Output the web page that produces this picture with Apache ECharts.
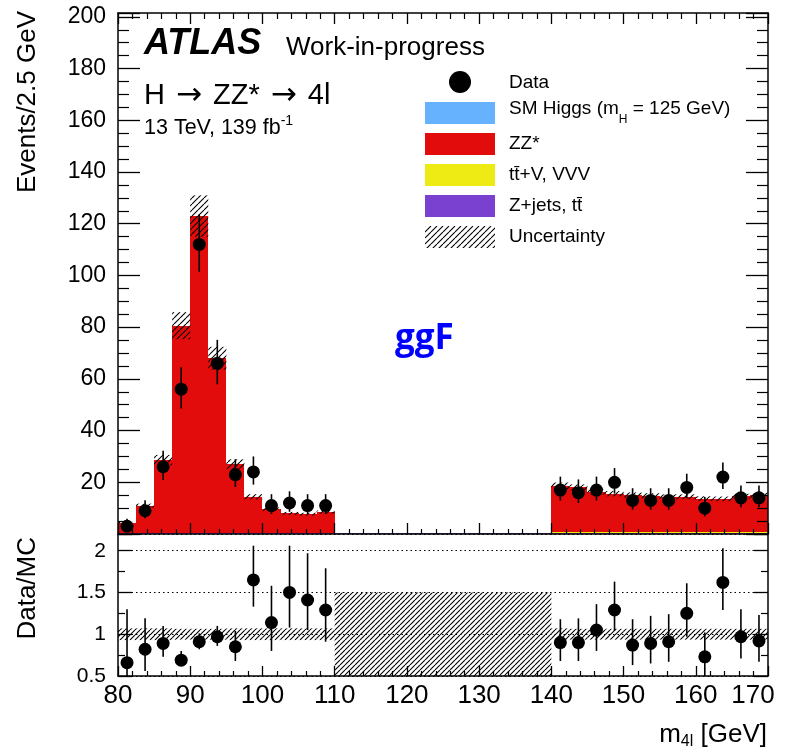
<!DOCTYPE html>
<html>
<head>
<meta charset="utf-8">
<script src="https://cdn.jsdelivr.net/npm/echarts@6/dist/echarts.min.js"></script>
<style>html,body{margin:0;padding:0;background:#fff}#c{width:790px;height:754px}</style>
</head>
<body>
<div id="c"></div>
<script>
// ---------------- data ----------------
const binLo = [80, 82.5, 85, 87.5, 90, 92.5, 95, 97.5, 100, 102.5, 105, 107.5,
               110, 112.5, 115, 117.5, 120, 122.5, 125, 127.5, 130, 132.5, 135, 137.5,
               140, 142.5, 145, 147.5, 150, 152.5, 155, 157.5, 160, 162.5, 165, 167.5];
const binWidth = 2.5;

// stacked MC components (events / bin), bottom to top
const zJets   = [0.3, 0.3, 0.3, 0.3, 0.3, 0.3, 0.3, 0.3, 0.3, 0.3, 0.3, 0.3,
                 0.3, 0.3, 0.3, 0.3, 0.3, 0.3, 0.3, 0.3, 0.3, 0.3, 0.3, 0.3,
                 0.25, 0.25, 0.25, 0.25, 0.25, 0.25, 0.25, 0.25, 0.25, 0.25, 0.25, 0.25];
const ttV     = [0.08, 0.08, 0.08, 0.08, 0.08, 0.08, 0.08, 0.08, 0.08, 0.08, 0.08, 0.08,
                 0, 0, 0, 0, 0, 0, 0, 0, 0, 0, 0, 0,
                 0.6, 0.6, 0.6, 0.6, 0.6, 0.6, 0.6, 0.6, 0.6, 0.6, 0.6, 0.6];
const zzStar  = [4.0, 10.6, 28.2, 80.2, 122.6, 67.6, 26.6, 14.0, 9.2, 7.6, 7.3, 8.1,
                 0, 0, 0, 0, 0, 0, 0, 0, 0, 0, 0, 0,
                 17.75, 17.15, 15.45, 14.75, 14.25, 13.95, 13.55, 13.55, 12.85, 12.75, 13.75, 14.15];
const smHiggs = [0, 0, 0, 0, 0, 0, 0, 0, 0, 0, 0, 0,
                 0, 0, 0, 0, 0, 0, 0, 0, 0, 0, 0, 0,
                 0, 0, 0, 0, 0, 0, 0, 0, 0, 0, 0, 0];
// relative MC uncertainty (null = blinded)
const mcRelUnc = [0.07, 0.07, 0.07, 0.065, 0.065, 0.065, 0.07, 0.07, 0.07, 0.07, 0.07, 0.07,
                  null, null, null, null, null, null, null, null, null, null, null, null,
                  0.07, 0.065, 0.065, 0.065, 0.065, 0.065, 0.065, 0.065, 0.065, 0.065, 0.065, 0.065];

// data
const dataCounts = [3, 9, 26, 56, 112, 66, 23, 24, 11, 12, 11, 11,
                    null, null, null, null, null, null, null, null, null, null, null, null,
                    17, 16, 17, 20, 13, 13, 13, 18, 10, 22, 14, 14];
const dataErrUp  = [2.9, 4.1, 6.2, 8.5, 11.6, 9.1, 5.9, 6.0, 4.4, 4.5, 4.4, 4.4,
                    null, null, null, null, null, null, null, null, null, null, null, null,
                    5.2, 5.1, 5.2, 5.5, 4.7, 4.7, 4.7, 5.3, 4.3, 5.7, 4.8, 4.8];
const dataErrDn  = [1.6, 2.9, 5.1, 7.5, 10.6, 8.1, 4.8, 4.9, 3.3, 3.4, 3.3, 3.3,
                    null, null, null, null, null, null, null, null, null, null, null, null,
                    4.1, 4.0, 4.1, 4.4, 3.6, 3.6, 3.6, 4.2, 3.1, 4.6, 3.7, 3.7];

// ratio panel
const ratioVal = [0.66, 0.82, 0.89, 0.69, 0.91, 0.97, 0.85, 1.65, 1.14, 1.50, 1.41, 1.29,
                  null, null, null, null, null, null, null, null, null, null, null, null,
                  0.90, 0.90, 1.05, 1.29, 0.87, 0.89, 0.91, 1.25, 0.73, 1.62, 0.97, 0.92];
const ratioHi  = [1.30, 1.19, 1.10, 0.80, 1.01, 1.10, 1.04, 2.06, 1.58, 2.06, 1.97, 1.79,
                  null, null, null, null, null, null, null, null, null, null, null, null,
                  1.18, 1.19, 1.36, 1.63, 1.18, 1.22, 1.24, 1.61, 1.02, 2.03, 1.30, 1.23];
const ratioLo  = [0.31, 0.56, 0.73, 0.62, 0.82, 0.86, 0.68, 1.33, 0.80, 1.08, 1.05, 0.91,
                  null, null, null, null, null, null, null, null, null, null, null, null,
                  0.68, 0.68, 0.80, 1.04, 0.63, 0.65, 0.67, 0.97, 0.48, 1.29, 0.71, 0.67];
const blindRange = [110, 140];
const blindRatioBand = [0.5, 1.5];

// axes
const xRange = [80, 170];      const xStep = 10;
const yMainRange = [0, 201.5]; const yMainStep = 20;
const yRatioRange = [0.5, 2.2]; const yRatioStep = 0.5;

// ---------------- styling ----------------
const FONT = '"Liberation Sans", Arial, Helvetica, sans-serif';
const COL = { higgs: '#66b2ff', zz: '#e20c0c', ttv: '#eeea14', zjets: '#7a40d0' };

function makeHatch(s, lw) {
  const c = document.createElement('canvas');
  c.width = s; c.height = s;
  const g = c.getContext('2d');
  g.strokeStyle = '#000'; g.lineWidth = lw;
  g.beginPath();
  for (let k = -1; k <= 1; k++) { g.moveTo(k * s, s); g.lineTo(k * s + s, 0); }
  g.stroke();
  return { image: c, repeat: 'repeat' };
}
const hatchMain = makeHatch(6, 1.1);
const hatchRatio = makeHatch(5, 1.1);

// ---------------- derived ----------------
const comps = [zJets, ttV, zzStar, smHiggs];
function stackRanges(k) {
  const out = [];
  binLo.forEach((lo, i) => {
    let base = 0;
    for (let j = 0; j < k; j++) base += comps[j][i];
    const top = base + comps[k][i];
    if (top > base) out.push([lo, lo + binWidth, base, top]);
  });
  return out;
}
const mcTotal = binLo.map((_, i) => comps.reduce((s, c) => s + c[i], 0));

function rectRender(fill, snap) {
  return function (params, api) {
    const a = api.coord([api.value(0), api.value(3)]);
    const b = api.coord([api.value(1), api.value(2)]);
    let x0 = a[0], x1 = b[0], y0 = a[1], y1 = b[1];
    if (snap) { x0 = Math.round(x0); x1 = Math.round(x1); y0 = Math.round(y0); y1 = Math.round(y1); if (y1 - y0 < 1) y0 = y1 - 1; }
    return { type: 'rect', shape: { x: x0, y: y0, width: x1 - x0, height: y1 - y0 },
             style: { fill: fill, stroke: null, lineWidth: 0 } };
  };
}
function rectSeries(name, xi, yi, data, fill, z, snap) {
  return { type: 'custom', name: name, xAxisIndex: xi, yAxisIndex: yi, clip: true, silent: true, z: z,
           dimensions: ['x0', 'x1', 'y0', 'y1'], encode: { x: [0, 1], y: [2, 3] },
           itemStyle: { color: fill }, emphasis: { disabled: true },
           renderItem: rectRender(fill, snap), data: data };
}
function errRender(params, api) {
  const a = api.coord([api.value(0), api.value(1)]);
  const b = api.coord([api.value(0), api.value(2)]);
  return { type: 'line', shape: { x1: a[0], y1: a[1], x2: b[0], y2: b[1] }, style: { stroke: '#000', lineWidth: 1.6 } };
}

const hatchData = [], bandData = [], dataPts = [], dataErr = [], ratioPts = [], ratioErr = [];
binLo.forEach((lo, i) => {
  const c = lo + binWidth / 2;
  if (mcRelUnc[i] != null) {
    hatchData.push([lo, lo + binWidth, mcTotal[i] * (1 - mcRelUnc[i]), mcTotal[i] * (1 + mcRelUnc[i])]);
    bandData.push([lo, lo + binWidth, 1 - mcRelUnc[i], 1 + mcRelUnc[i]]);
  }
  if (dataCounts[i] != null) {
    dataPts.push([c, dataCounts[i]]);
    dataErr.push([c, dataCounts[i] - dataErrDn[i], dataCounts[i] + dataErrUp[i]]);
  }
  if (ratioVal[i] != null) {
    ratioPts.push([c, ratioVal[i]]);
    ratioErr.push([c, ratioLo[i], ratioHi[i]]);
  }
});

// ---------------- axes ----------------
const axLine = { show: true, onZero: false, lineStyle: { color: '#000', width: 1.5 } };
function xAx(grid, pos, label, maj, min) {
  return { type: 'value', gridIndex: grid, position: pos, min: xRange[0], max: xRange[1], interval: xStep, z: 6,
           axisLine: axLine, splitLine: { show: false },
           axisTick: { show: maj > 0, inside: true, length: maj, lineStyle: { color: '#000', width: 1.3 } },
           minorTick: { show: min > 0, splitNumber: 5, length: min, lineStyle: { color: '#000', width: 1.2 } },
           axisLabel: label ? { show: true, margin: 7, color: '#000', fontFamily: FONT, fontSize: 26,
                                formatter: v => v === xRange[1] ? '{last|' + v + '}' : String(v),
                                rich: { last: { fontFamily: FONT, fontSize: 26, color: '#000', padding: [0, 30, 0, 0] } } }
                              : { show: false } };
}
function yAx(grid, pos, range, step, label, maj, min, split, grid2, fs) {
  return { type: 'value', gridIndex: grid, position: pos, min: range[0], max: range[1], interval: step, z: 6,
           axisLine: axLine,
           splitLine: grid2 ? { show: true, lineStyle: { color: '#000', width: 1.2, type: [1.5, 3] } } : { show: false },
           axisTick: { show: true, inside: true, length: maj, lineStyle: { color: '#000', width: 1.3 } },
           minorTick: { show: true, splitNumber: split, length: min, lineStyle: { color: '#000', width: 1.2 } },
           axisLabel: label ? { show: true, margin: 12, color: '#000', fontFamily: FONT, fontSize: fs,
                                showMinLabel: grid !== 0, showMaxLabel: false }
                              : { show: false } };
}

// ---------------- option ----------------
const option = {
  animation: false,
  backgroundColor: '#fff',
  grid: [
    { left: 118, top: 13, width: 650, height: 521, outerBoundsMode: 'none', containLabel: false },
    { left: 118, top: 534, width: 650, height: 142, outerBoundsMode: 'none', containLabel: false }
  ],
  xAxis: [
    xAx(0, 'bottom', false, 11, 5),
    xAx(0, 'top', false, 11, 6),
    xAx(1, 'bottom', true, 10, 5)
  ],
  yAxis: [
    yAx(0, 'left', yMainRange, yMainStep, true, 22, 11, 4, false, 23),
    yAx(0, 'right', yMainRange, yMainStep, false, 22, 11, 4, false, 23),
    yAx(1, 'left', yRatioRange, yRatioStep, true, 14, 7, 2, true, 21),
    yAx(1, 'right', yRatioRange, yRatioStep, false, 14, 7, 2, false, 21)
  ],
  legend: {
    left: 425, top: 71, padding: 0, orient: 'vertical', itemWidth: 70, itemHeight: 22, itemGap: 9,
    selectedMode: false, formatter: () => '',
    textStyle: { fontSize: 1 },
    data: [
      { name: 'Data', icon: 'circle' },
      { name: 'SM Higgs', icon: 'rect' },
      { name: 'ZZ*', icon: 'rect' },
      { name: 'ttV, VVV', icon: 'rect' },
      { name: 'Z+jets, tt', icon: 'rect' },
      { name: 'Uncertainty', icon: 'rect' }
    ]
  },
  series: [
    rectSeries('Z+jets, tt', 0, 0, stackRanges(0), COL.zjets, 2, true),
    rectSeries('ttV, VVV', 0, 0, stackRanges(1), COL.ttv, 2, true),
    rectSeries('ZZ*', 0, 0, stackRanges(2), COL.zz, 2, true),
    rectSeries('SM Higgs', 0, 0, stackRanges(3), COL.higgs, 2, true),
    rectSeries('Uncertainty', 0, 0, hatchData, hatchMain, 3, false),
    { type: 'custom', name: 'dataErr', xAxisIndex: 0, yAxisIndex: 0, z: 4, silent: true, clip: true,
      renderItem: errRender, data: dataErr, encode: { x: 0, y: [1, 2] } },
    { type: 'scatter', name: 'Data', xAxisIndex: 0, yAxisIndex: 0, z: 5, silent: true,
      symbol: 'circle', symbolSize: 13, itemStyle: { color: '#000', opacity: 1 }, data: dataPts },
    rectSeries('ratioBand', 2, 2, bandData, hatchRatio, 3, false),
    rectSeries('blinded', 2, 2, [[blindRange[0], blindRange[1], blindRatioBand[0], blindRatioBand[1]]], hatchRatio, 3, false),
    { type: 'custom', name: 'ratioErr', xAxisIndex: 2, yAxisIndex: 2, z: 4, silent: true, clip: true,
      renderItem: errRender, data: ratioErr, encode: { x: 0, y: [1, 2] } },
    { type: 'scatter', name: 'ratio', xAxisIndex: 2, yAxisIndex: 2, z: 5, silent: true, clip: true,
      symbol: 'circle', symbolSize: 13, itemStyle: { color: '#000', opacity: 1 }, data: ratioPts }
  ],
  graphic: [
    { type: 'text', x: 144, y: 44.5, z: 10, style: { text: 'ATLAS', fontFamily: FONT, fontSize: 36, fontWeight: 'bold', fontStyle: 'italic', fill: '#000', verticalAlign: 'middle' } },
    { type: 'text', x: 286, y: 48, z: 10, style: { text: 'Work-in-progress', fontFamily: FONT, fontSize: 26, fill: '#000', verticalAlign: 'middle' } },
    { type: 'text', x: 144, y: 95.5, z: 10, style: { text: '{a|H }{ar|\u2192}{a| ZZ* }{ar|\u2192}{a| 4l}', verticalAlign: 'middle', fill: '#000',
        rich: { a: { fontFamily: FONT, fontSize: 29, fill: '#000' },
                ar: { fontFamily: '"DejaVu Sans", sans-serif', fontSize: 31, fill: '#000', padding: [0, 3, 0, 3] } } } },
    { type: 'text', x: 144, y: 113, z: 10, style: { text: '{a|13 TeV, 139 fb}{sup|-1}', verticalAlign: 'top', fill: '#000',
        rich: { a: { fontFamily: FONT, fontSize: 21.5, lineHeight: 21, padding: [10, 0, 0, 0], fill: '#000' },
                sup: { fontFamily: FONT, fontSize: 14, lineHeight: 14, padding: [0, 0, 5, 0], fill: '#000' } } } },
    { type: 'text', x: 395, y: 339, z: 10, style: { text: 'ggF', fontFamily: '"Open Sans", "Noto Sans", sans-serif', fontSize: 35, fontWeight: 'bold', fill: '#0000ff', verticalAlign: 'middle' } },
    // legend labels
    { type: 'text', x: 509, y: 82.6, z: 10, style: { text: 'Data', fontFamily: FONT, fontSize: 19, fill: '#000', verticalAlign: 'middle' } },
    { type: 'text', x: 509, y: 104, z: 10, style: { text: '{a|SM Higgs (m}{sub|H}{a| = 125 GeV)}', verticalAlign: 'top', fill: '#000',
        rich: { a: { fontFamily: FONT, fontSize: 19, lineHeight: 19, padding: [0, 0, 10, 0], fill: '#000' },
                sub: { fontFamily: FONT, fontSize: 12, lineHeight: 12, padding: [12, 0, 0, 0], fill: '#000' } } } },
    { type: 'text', x: 509, y: 144, z: 10, style: { text: 'ZZ*', fontFamily: FONT, fontSize: 19, fill: '#000', verticalAlign: 'middle' } },
    { type: 'text', x: 509, y: 175, z: 10, style: { text: 'tt\u0304+V, VVV', fontFamily: FONT, fontSize: 19, fill: '#000', verticalAlign: 'middle' } },
    { type: 'text', x: 509, y: 206, z: 10, style: { text: 'Z+jets, tt\u0304', fontFamily: FONT, fontSize: 19, fill: '#000', verticalAlign: 'middle' } },
    { type: 'text', x: 509, y: 236.8, z: 10, style: { text: 'Uncertainty', fontFamily: FONT, fontSize: 19, fill: '#000', verticalAlign: 'middle' } },
    // axis titles
    { type: 'text', x: 28, y: 11, rotation: Math.PI / 2, z: 10, style: { text: 'Events/2.5 GeV', fontFamily: FONT, fontSize: 26, fill: '#000', align: 'right', verticalAlign: 'middle' } },
    { type: 'text', x: 28, y: 537, rotation: Math.PI / 2, z: 10, style: { text: 'Data/MC', fontFamily: FONT, fontSize: 26, fill: '#000', align: 'right', verticalAlign: 'middle' } },
    { type: 'text', x: 767, y: 722, z: 10, style: { text: '{a|m}{sub|4l}{a| [GeV]}', align: 'right', verticalAlign: 'top', fill: '#000',
        rich: { a: { fontFamily: FONT, fontSize: 26, lineHeight: 26, fill: '#000' },
                sub: { fontFamily: FONT, fontSize: 16, lineHeight: 16, padding: [14, 0, 0, 0], fill: '#000' } } } }
  ]
};

const chart = echarts.init(document.getElementById('c'), null, { renderer: 'canvas', width: 790, height: 754 });
chart.setOption(option);
</script>
</body>
</html>
